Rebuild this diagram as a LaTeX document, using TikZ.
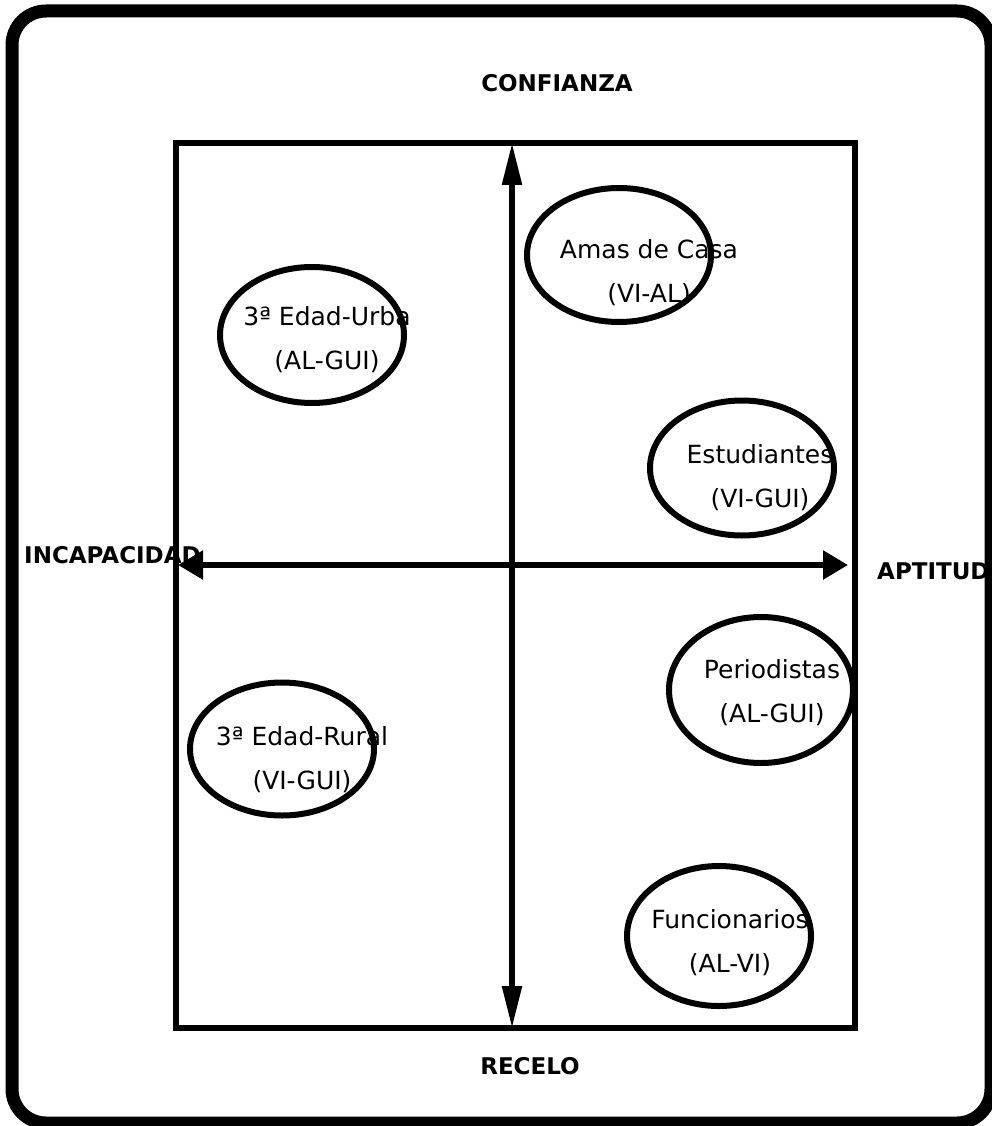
\documentclass[tikz,border=0pt]{standalone}
\usepackage{fontspec}
\setmainfont{DejaVu Sans}
\usetikzlibrary{arrows.meta,shapes.geometric}

\begin{document}
\begin{tikzpicture}[x=1pt, y=-1pt, font=\fontsize{25}{44}\selectfont]
\tikzstyle{grupo}=[ellipse, draw, line width=6pt, inner sep=0pt, outer sep=0pt, minimum width=184pt]
\tikzstyle{rotulo}=[align=center, anchor=base, inner sep=0pt]
\tikzstyle{eje}=[font=\fontsize{23}{28}\selectfont\bfseries, anchor=base, inner sep=0pt]
\useasboundingbox (0,0) rectangle (991,1126);
\draw[line width=13pt, rounded corners=34pt] (12,11) rectangle (991,1123);
\node[draw, line width=6pt, inner sep=0pt, outer sep=0pt, minimum width=679pt, minimum height=885pt] (marco) at (515.5,585.5) {};
\node[eje] (confianza) at (557,92) {CONFIANZA};
\node[eje] (recelo) at (530,1074) {RECELO};
\node[eje, anchor=base west] (incapacidad) at (24,563) {INCAPACIDAD};
\node[eje, anchor=base west] (aptitud) at (877,579) {APTITUD};
% ejes
\coordinate (arriba) at (512,143);
\coordinate (abajo) at (512,1028);
\coordinate (izq) at (178,565);
\coordinate (der) at (848,565);
\draw[line width=5.5pt, {Triangle[length=42pt,width=19pt]}-{Triangle[length=42pt,width=19pt]}] (abajo) -- (arriba);
\draw[line width=5.5pt, {Triangle[length=25pt,width=28pt]}-{Triangle[length=25pt,width=28pt]}] (izq) -- (der);
% grupos (base = ultima linea)
\node[rotulo] (t-urba) at (327,369) {3ª Edad-Urba\\(AL-GUI)};
\node[rotulo] (t-amas) at (649,302) {Amas de Casa\\(VI-AL)};
\node[rotulo] (t-estud) at (760,507) {Estudiantes\\(VI-GUI)};
\node[rotulo] (t-period) at (772,722) {Periodistas\\(AL-GUI)};
\node[rotulo] (t-rural) at (302,789) {3ª Edad-Rural\\(VI-GUI)};
\node[rotulo] (t-func) at (730,972) {Funcionarios\\(AL-VI)};
\node[grupo, minimum height=136pt] (urba) at (312,335) {};
\node[grupo, minimum height=134pt] (amas) at (619,255) {};
\node[grupo, minimum height=135pt] (estud) at (742,468) {};
\node[grupo, minimum height=146pt] (period) at (761,690) {};
\node[grupo, minimum height=133pt] (rural) at (282,749) {};
\node[grupo, minimum height=140pt] (func) at (719,936) {};
\end{tikzpicture}
\end{document}
